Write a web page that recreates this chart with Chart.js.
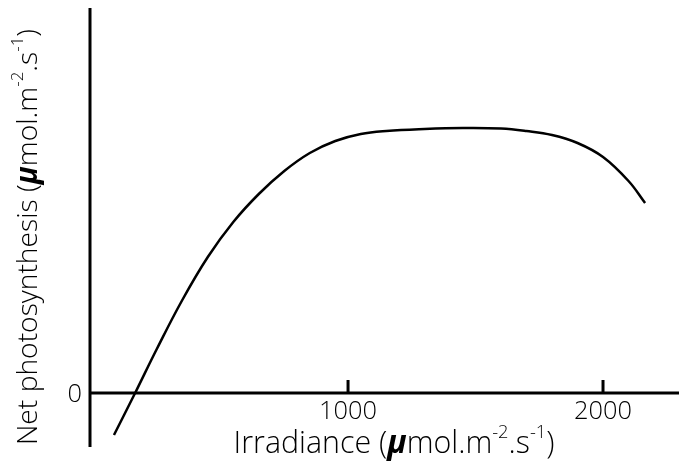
<!DOCTYPE html>
<html lang="en">
<head>
    <meta charset="UTF-8">
    <title>Net photosynthesis vs irradiance</title>
    <style>
        html, body { margin: 0; padding: 0; background: #fff; }
        .chart-box { width: 679px; height: 470px; position: relative; }
    </style>
</head>
<body>

    <div class="chart-box">
        <canvas id="myChart" role="img" aria-label="Net photosynthesis against irradiance"></canvas>
    </div>

    <script src="https://cdn.jsdelivr.net/npm/chart.js@4.4.1/dist/chart.umd.min.js"></script>

    <script>
        // values (y is in arbitrary units, only 0 is labelled)
        var irradiance = [82, 165, 250, 350, 450, 550, 650, 750, 850, 950, 1050, 1150, 1300, 1450, 1600,
                          1700, 1800, 1900, 2000, 2100, 2165];
        var netPhotosynthesis = [-4.2, 0, 4.4, 9.3, 13.6, 17.1, 19.9, 22.2, 24.0, 25.2, 25.9, 26.2, 26.4, 26.5, 26.45,
                                 26.2, 25.8, 25.0, 23.6, 21.2, 19.0];
        var xTicks = [1000, 2000];
        var yTicks = [0];

        var FONT = '"Open Sans", sans-serif';
        var WEIGHT = '300 ';

        var points = irradiance.map(function (x, i) {
            return { x: x, y: netPhotosynthesis[i] };
        });

        function fontFor(p, size) {
            if (p.sup) return WEIGHT + (size * 0.6) + 'px ' + FONT;
            if (p.mu) return 'italic bold ' + (size * 1.05) + 'px ' + FONT;
            return WEIGHT + size + 'px ' + FONT;
        }

        function richWidth(ctx, parts, size) {
            var total = 0;
            parts.forEach(function (p) {
                ctx.font = fontFor(p, size);
                p.w = ctx.measureText(p.t).width;
                total += p.w;
            });
            return total;
        }

        // draws text centred on x, with a bold-italic mu and superscripts,
        // sized so it takes up the given width
        function drawRich(ctx, parts, x, y, width) {
            var size = 20 * width / richWidth(ctx, parts, 20);
            var total = richWidth(ctx, parts, size);
            var cx = x - total / 2;
            ctx.textAlign = 'left';
            ctx.textBaseline = 'middle';
            parts.forEach(function (p) {
                ctx.font = fontFor(p, size);
                ctx.fillText(p.t, cx, p.sup ? y - size * 0.38 : y);
                cx += p.w;
            });
        }

        function unitParts(prefix) {
            return [
                { t: prefix + ' (' },
                { t: '\u00b5', mu: true },
                { t: 'mol.m' },
                { t: '-2', sup: true },
                { t: '.s' },
                { t: '-1', sup: true },
                { t: ')' }
            ];
        }

        var axesPlugin = {
            id: 'axesPlugin',
            afterDraw: function (chart) {
                var ctx = chart.ctx;
                var xs = chart.scales.x, ys = chart.scales.y;
                var area = chart.chartArea;
                var x0 = xs.getPixelForValue(-12);
                var y0 = ys.getPixelForValue(0);

                ctx.save();
                ctx.strokeStyle = '#000';
                ctx.fillStyle = '#000';
                ctx.lineWidth = 3;

                // y axis
                ctx.beginPath();
                ctx.moveTo(x0, area.top);
                ctx.lineTo(x0, area.bottom);
                ctx.stroke();

                // x axis at zero
                ctx.beginPath();
                ctx.moveTo(x0, y0);
                ctx.lineTo(area.right, y0);
                ctx.stroke();

                // tick labels, "1000" about 58px wide
                ctx.font = WEIGHT + '20px ' + FONT;
                var numSize = 20 * 58 / ctx.measureText('1000').width;
                ctx.font = WEIGHT + numSize + 'px ' + FONT;
                ctx.textAlign = 'center';
                ctx.textBaseline = 'middle';
                xTicks.forEach(function (v) {
                    var px = xs.getPixelForValue(v);
                    ctx.beginPath();
                    ctx.moveTo(px, y0 - 13);
                    ctx.lineTo(px, y0 + 1);
                    ctx.stroke();
                    ctx.fillText(String(v), px, y0 + 19);
                });

                ctx.textAlign = 'right';
                yTicks.forEach(function (v) {
                    ctx.fillText(String(v), x0 - 8, ys.getPixelForValue(v) + 2);
                });

                // axis titles
                drawRich(ctx, unitParts('Irradiance'), 394, 444, 321);

                ctx.translate(29, 237);
                ctx.rotate(-Math.PI / 2);
                drawRich(ctx, unitParts('Net photosynthesis'), 0, 0, 416);

                ctx.restore();
            }
        };

        new Chart(document.getElementById('myChart'), {
            type: 'scatter',
            data: {
                datasets: [{
                    data: points,
                    showLine: true,
                    borderColor: '#000',
                    borderWidth: 2.5,
                    pointRadius: 0,
                    tension: 0.4,
                    fill: false
                }]
            },
            options: {
                responsive: true,
                maintainAspectRatio: false,
                animation: false,
                layout: { padding: { left: 90, top: 8, right: 0, bottom: 23 } },
                plugins: {
                    legend: { display: false },
                    tooltip: { enabled: false }
                },
                scales: {
                    x: { type: 'linear', display: false, min: -12, max: 2298 },
                    y: { type: 'linear', display: false, min: -5.4, max: 38.5 }
                }
            },
            plugins: [axesPlugin]
        });
    </script>

</body>
</html>
